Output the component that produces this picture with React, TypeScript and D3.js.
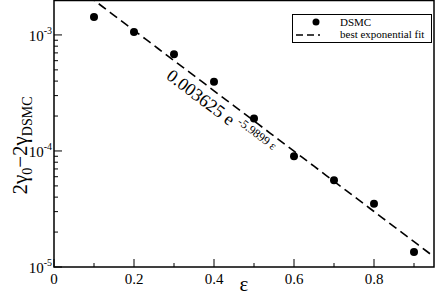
import { useEffect, useRef } from 'react';
import * as d3 from 'd3';

const epsValues = [0.1, 0.2, 0.3, 0.4, 0.5, 0.6, 0.7, 0.8, 0.9];
const dsmcValues = [1.43e-3, 1.06e-3, 6.8e-4, 3.95e-4, 1.9e-4, 9.0e-5, 5.6e-5, 3.5e-5, 1.35e-5];
const fitA = 0.003625;
const fitB = -5.9899;
const xTicks = [0, 0.2, 0.4, 0.6, 0.8];
const yDecades = [-5, -4, -3];

const width = 436;
const height = 297;
const serif = "Liberation Serif, DejaVu Serif, Times New Roman, serif";

export default function App() {
  const svgRef = useRef<SVGSVGElement>(null);

  useEffect(() => {
    if (!svgRef.current) return;
    const svg = d3.select(svgRef.current);
    svg.selectAll("*").remove();

    const left = 54, right = 434, top = 0, bottom = 267;

    const x = d3.scaleLinear().domain([0, 0.95]).range([left, right]);
    const y = d3.scaleLog().domain([1e-5, 2e-3]).range([bottom, top]);

    svg.append("defs").append("clipPath").attr("id", "plotclip")
      .append("rect").attr("x", left).attr("y", top).attr("width", right - left).attr("height", bottom - top);

    // fit line
    const fitXs = d3.range(0, 0.951, 0.01);
    const line = d3.line<number>().x(d => x(d)).y(d => y(fitA * Math.exp(fitB * d)));
    svg.append("path")
      .attr("clip-path", "url(#plotclip)")
      .attr("d", line(fitXs))
      .attr("fill", "none")
      .attr("stroke", "black")
      .attr("stroke-width", 1.6)
      .attr("stroke-dasharray", "9,5");

    // points
    svg.append("g").selectAll("circle")
      .data(epsValues)
      .enter().append("circle")
      .attr("cx", d => x(d))
      .attr("cy", (d, i) => y(dsmcValues[i]))
      .attr("r", 4)
      .attr("fill", "black");

    // frame
    svg.append("rect")
      .attr("x", left).attr("y", top + 0.5)
      .attr("width", right - left).attr("height", bottom - top - 0.5)
      .attr("fill", "none").attr("stroke", "black").attr("stroke-width", 1.5);

    // x ticks (inward)
    const xMinor = d3.range(0.1, 0.95, 0.2);
    const g = svg.append("g").attr("stroke", "black").attr("stroke-width", 1);
    xTicks.forEach(t => {
      g.append("line").attr("x1", x(t)).attr("x2", x(t)).attr("y1", bottom).attr("y2", bottom - 8);
    });
    xMinor.forEach(t => {
      g.append("line").attr("x1", x(t)).attr("x2", x(t)).attr("y1", bottom).attr("y2", bottom - 4);
    });
    svg.append("g").selectAll("text")
      .data(xTicks)
      .enter().append("text")
      .attr("x", d => x(d))
      .attr("y", 284)
      .attr("text-anchor", "middle")
      .style("font-family", serif)
      .attr("font-size", 15)
      .text(d => d === 0 ? "0" : d3.format(".1f")(d));

    // y ticks
    yDecades.forEach(p => {
      const v = Math.pow(10, p);
      g.append("line").attr("x1", left).attr("x2", left + 8).attr("y1", y(v)).attr("y2", y(v));
      for (let k = 2; k <= 9; k++) {
        const mv = k * v;
        if (mv > 2e-3) break;
        g.append("line").attr("x1", left).attr("x2", left + 4).attr("y1", y(mv)).attr("y2", y(mv));
      }
      const t = svg.append("text")
        .attr("x", left - 2)
        .attr("y", y(v) + 6)
        .attr("text-anchor", "end")
        .style("font-family", serif)
        .attr("font-size", 15);
      t.append("tspan").text("10");
      t.append("tspan").attr("dy", -7).attr("font-size", 10).text(`-${-p}`);
    });

    // axis titles
    svg.append("text")
      .attr("x", x(0.475))
      .attr("y", 291)
      .attr("text-anchor", "middle")
      .style("font-family", serif)
      .attr("font-size", 21)
      .text("ε");

    const yl = svg.append("text")
      .attr("transform", `translate(27,${(top + bottom) / 2 + 12}) rotate(-90)`)
      .attr("text-anchor", "middle")
      .style("font-family", serif)
      .attr("font-size", 21);
    yl.append("tspan").text("2γ");
    yl.append("tspan").attr("dy", 5).attr("font-size", 14).text("0");
    yl.append("tspan").attr("dy", -5).text("−2γ");
    yl.append("tspan").attr("dy", 5).attr("font-size", 14).text("DSMC");

    // annotation along the fit
    const ax = 0.278, ay = 4.25e-4;
    const slope = (y(fitA * Math.exp(fitB * 0.9)) - y(fitA * Math.exp(fitB * 0.1))) / (x(0.9) - x(0.1));
    const angle = Math.atan(slope) * 180 / Math.PI;
    const ann = svg.append("text")
      .attr("transform", `translate(${x(ax)},${y(ay)}) rotate(${angle})`)
      .style("font-family", serif)
      .attr("font-size", 18);
    ann.append("tspan").text("0.003625 e ");
    ann.append("tspan").attr("dy", -7).attr("font-size", 12).text("-5.9899 ε");

    // legend
    const lg = svg.append("g");
    lg.append("rect")
      .attr("x", 292.5).attr("y", 14.5).attr("width", 139).attr("height", 28)
      .attr("fill", "white").attr("stroke", "black").attr("stroke-width", 1);
    lg.append("circle").attr("cx", 316).attr("cy", 22).attr("r", 3.5).attr("fill", "black");
    lg.append("line").attr("x1", 296).attr("x2", 320).attr("y1", 35).attr("y2", 35)
      .attr("stroke", "black").attr("stroke-width", 1.3).attr("stroke-dasharray", "7,4");
    lg.append("text").attr("x", 340).attr("y", 26).style("font-family", serif).attr("font-size", 11).text("DSMC");
    lg.append("text").attr("x", 340).attr("y", 38).style("font-family", serif).attr("font-size", 11).text("best exponential fit");
  }, []);

  return (
    <div style={{ position: 'absolute', left: 0, top: 0 }}>
      <svg ref={svgRef} width={width} height={height} style={{ display: 'block', background: 'white' }}></svg>
    </div>
  );
}
